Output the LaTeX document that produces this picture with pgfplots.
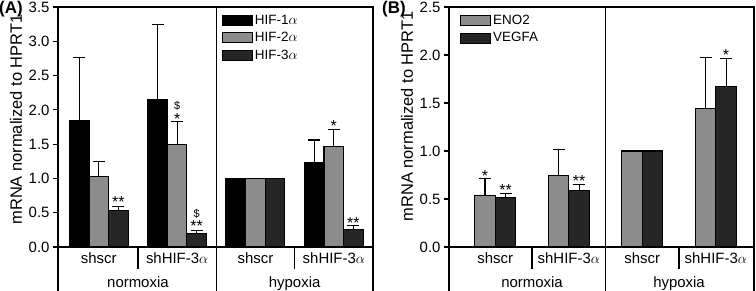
\documentclass[border=0pt]{standalone}
\usepackage{pgfplots}
\pgfplotsset{compat=1.18}
\usepackage{fontspec}
\setmainfont{Liberation Sans}
\definecolor{cblack}{HTML}{000000}
\definecolor{cgray}{HTML}{8C8C8C}
\definecolor{cdark}{HTML}{262626}
\newcommand{\al}{$\alpha$}
\pgfplotsset{
  myax/.style={
    scale only axis, height=240bp, ymin=0,
    axis line style={line width=1.2bp},
    clip=false,
    xtick={0,1,2,3},
    xticklabels={shscr, shHIF-3\al, shscr, shHIF-3\al},
    x tick style={draw=none},
    xticklabel style={font=\fontsize{15}{16}\selectfont, anchor=base, yshift=-16.6bp},
    ytick pos=left, ytick align=outside,
    y tick style={line width=1.2bp, black},
    major tick length=5bp,
    yticklabel style={font=\fontsize{15}{16}\selectfont, /pgf/number format/fixed, /pgf/number format/fixed zerofill, /pgf/number format/precision=1},
    /pgf/number format/assume math mode=true,
    legend style={draw=none, fill=none, inner sep=0pt, font=\fontsize{13.5}{14}\selectfont, row sep=2.5bp, legend cell align=left},
  },
  mybar/.style={ybar, bar width=#1, draw=black, line width=1.2bp},
  myerr/.style={draw=none, mark=none,
    error bars/y dir=plus, error bars/y explicit,
    error bars/error bar style={draw=black, solid, line width=1.1bp},
    error bars/error mark options={rotate=90, draw=black, mark size=6bp, line width=1.1bp}},
}
\tikzset{sep/.style={line width=1.2bp},
  ann/.style={font=\fontsize{16}{17}\selectfont, anchor=base, inner sep=0pt},
  dol/.style={font=\fontsize{11}{12}\selectfont, anchor=base, inner sep=0pt},
  lab/.style={font=\fontsize{15}{16}\selectfont, anchor=base, inner sep=0pt}}
% star: glyph top = given value; dollar: glyph top = given value
\newcommand{\st}[3]{\node[ann] at ([yshift=-11.4bp]axis cs:#1,#2) {#3};}
\newcommand{\dl}[2]{\node[dol] at ([yshift=-8.4bp]axis cs:#1,#2) {\$};}
\begin{document}
\begin{tikzpicture}
\useasboundingbox (0,0) rectangle (756bp,-291bp);
\node[font=\bfseries\fontsize{17}{18}\selectfont, anchor=base west, inner sep=0pt] at (-1bp,-13bp) {(A)};
\node[font=\bfseries\fontsize{17}{18}\selectfont, anchor=base west, inner sep=0pt] at (382bp,-13bp) {(B)};
% ---------------- Panel A
\begin{axis}[myax, at={(58bp,-247bp)}, anchor=south west, width=315bp,
  xmin=-0.52, xmax=3.5, ymax=3.5, ytick={0,0.5,...,3.5},
  legend style={at={(axis description cs:0.52,0.975)}, anchor=north west}]
\addlegendimage{legend image code/.code={\draw[fill=cblack, draw=black, line width=1bp] (0bp,-5bp) rectangle (30bp,5bp);}}
\addlegendentry{HIF-1\al}
\addlegendimage{legend image code/.code={\draw[fill=cgray, draw=black, line width=1bp] (0bp,-5bp) rectangle (30bp,5bp);}}
\addlegendentry{HIF-2\al}
\addlegendimage{legend image code/.code={\draw[fill=cdark, draw=black, line width=1bp] (0bp,-5bp) rectangle (30bp,5bp);}}
\addlegendentry{HIF-3\al}
% HIF-1alpha
\addplot[mybar=0.25, bar shift=-0.25, fill=cblack, forget plot] coordinates {(0,1.84) (1,2.15) (2,1.00) (3,1.23)};
\addplot[myerr, forget plot] coordinates {(-0.25,1.84) +- (0,0.93) (0.75,2.15) +- (0,1.09) (2.75,1.23) +- (0,0.33)};
% HIF-2alpha
\addplot[mybar=0.25, bar shift=0, fill=cgray, forget plot] coordinates {(0,1.03) (1,1.49) (2,1.00) (3,1.46)};
\addplot[myerr, forget plot] coordinates {(0,1.03) +- (0,0.22) (1,1.49) +- (0,0.34) (3,1.46) +- (0,0.25)};
% HIF-3alpha
\addplot[mybar=0.25, bar shift=0.25, fill=cdark, forget plot] coordinates {(0,0.53) (1,0.195) (2,1.00) (3,0.26)};
\addplot[myerr, forget plot] coordinates {(0.25,0.53) +- (0,0.06) (1.25,0.195) +- (0,0.045) (3.25,0.26) +- (0,0.05)};
\draw[sep] (axis cs:1.5,3.5) -- ++(0bp,-284bp);
\draw[sep] (rel axis cs:0,0) -- ++(0bp,-44bp);
\draw[sep] (rel axis cs:1,0) -- ++(0bp,-44bp);
\draw[sep] (axis cs:0.5,0) -- ++(0bp,-22bp);
\draw[sep] (axis cs:2.5,0) -- ++(0bp,-22bp);
\node[lab] at ([yshift=-40.6bp]axis cs:0.5,0) {normoxia};
\node[lab] at ([yshift=-40.6bp]axis cs:2.5,0) {hypoxia};
\node[rotate=90, font=\fontsize{16.5}{18}\selectfont, inner sep=0pt] at ([xshift=-42bp]rel axis cs:0,0.531) {mRNA normalized to HPRT1};
\st{0.25}{0.74}{**}
\st{1}{1.95}{*}
\dl{1}{2.13}
\st{1.25}{0.39}{**}
\dl{1.25}{0.56}
\st{3}{1.85}{*}
\st{3.25}{0.44}{**}
\end{axis}
% ---------------- Panel B
\begin{axis}[myax, at={(449bp,-247bp)}, anchor=south west, width=305bp,
  xmin=-0.63, xmax=3.52, ymax=2.5, ytick={0,0.5,...,2.5},
  legend style={at={(axis description cs:0.036,0.975)}, anchor=north west}]
\addlegendimage{legend image code/.code={\draw[fill=cgray, draw=black, line width=1bp] (0bp,-5bp) rectangle (30bp,5bp);}}
\addlegendentry{ENO2}
\addlegendimage{legend image code/.code={\draw[fill=cdark, draw=black, line width=1bp] (0bp,-5bp) rectangle (30bp,5bp);}}
\addlegendentry{VEGFA}
% ENO2
\addplot[mybar=0.28, bar shift=-0.14, fill=cgray, forget plot] coordinates {(0,0.54) (1,0.745) (2,1.00) (3,1.445)};
\addplot[myerr, forget plot] coordinates {(-0.14,0.54) +- (0,0.17) (0.86,0.745) +- (0,0.275) (2.86,1.445) +- (0,0.53)};
% VEGFA
\addplot[mybar=0.28, bar shift=0.14, fill=cdark, forget plot] coordinates {(0,0.515) (1,0.585) (2,1.00) (3,1.67)};
\addplot[myerr, forget plot] coordinates {(0.14,0.515) +- (0,0.045) (1.14,0.585) +- (0,0.065) (3.14,1.67) +- (0,0.295)};
\draw[sep] (axis cs:1.5,2.5) -- ++(0bp,-284bp);
\draw[sep] (rel axis cs:0,0) -- ++(0bp,-44bp);
\draw[sep] (rel axis cs:1,0) -- ++(0bp,-44bp);
\draw[sep] (axis cs:0.5,0) -- ++(0bp,-22bp);
\draw[sep] (axis cs:2.5,0) -- ++(0bp,-22bp);
\node[lab] at ([yshift=-40.6bp]axis cs:0.5,0) {normoxia};
\node[lab] at ([yshift=-40.6bp]axis cs:2.5,0) {hypoxia};
\node[rotate=90, font=\fontsize{16.5}{18}\selectfont, inner sep=0pt] at ([xshift=-42bp]rel axis cs:0,0.544) {mRNA normalized to HPRT1};
\st{-0.14}{0.80}{*}
\st{0.14}{0.66}{**}
\st{1.14}{0.75}{**}
\st{3.14}{2.06}{*}
\end{axis}
\end{tikzpicture}
\end{document}
